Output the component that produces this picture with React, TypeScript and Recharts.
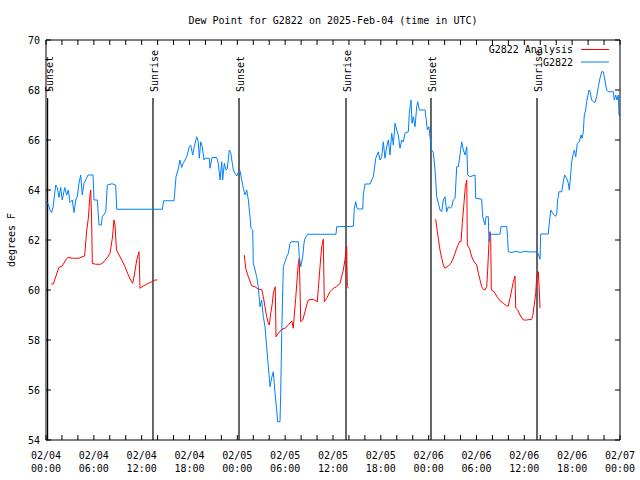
import React from 'react';
import { LineChart, Line, XAxis, YAxis, ReferenceLine, Legend } from 'recharts';

const FONT = "'DejaVu Sans Mono', monospace";

const titleText = 'Dew Point for G2822 on 2025-Feb-04 (time in UTC)';
const yAxisTitle = 'degrees F';
const seriesNames = ['G2822 Analysis', 'G2822'];
const seriesColors = ['#ff0000', '#0080ff'];

const xTickHours = [0, 6, 12, 18, 24, 30, 36, 42, 48, 54, 60, 66, 72];
const xTickDates = ['02/04', '02/04', '02/04', '02/04', '02/05', '02/05', '02/05', '02/05', '02/06', '02/06', '02/06', '02/06', '02/07'];
const xTickTimes = ['00:00', '06:00', '12:00', '18:00', '00:00', '06:00', '12:00', '18:00', '00:00', '06:00', '12:00', '18:00', '00:00'];
const xMinorTicks = [0, 2, 4, 6, 8, 10, 12, 14, 16, 18, 20, 22, 24, 26, 28, 30, 32, 34, 36, 38, 40, 42, 44, 46, 48, 50, 52, 54, 56, 58, 60, 62, 64, 66, 68, 70, 72];
const yTicks = [54, 56, 58, 60, 62, 64, 66, 68, 70];

const sunHours = [0.2, 13.42, 24.21, 37.63, 48.29, 61.59];
const sunLabels = ['Sunset', 'Sunrise', 'Sunset', 'Sunrise', 'Sunset', 'Sunrise'];
const sunLineTop = 67.68;

// G2822 observations: [hour since 02/04 00:00 UTC, dew point F]
const obsG2822: [number, number][] = [
  [0.0, 63.5], [0.25, 63.47], [0.5, 63.2], [0.69, 63.1], [0.88, 63.3], [1.22, 64.2], [1.42, 64.1], [1.63, 63.7],
  [1.84, 64.1], [2.04, 63.6], [2.35, 64.1], [2.6, 63.8], [2.8, 64.0], [3.01, 63.5], [3.3, 63.6], [3.51, 63.1],
  [3.73, 63.6], [3.93, 63.75], [4.14, 64.27], [4.35, 64.6], [4.55, 63.8], [4.77, 64.27], [4.98, 64.4], [5.27, 64.6],
  [5.9, 64.6], [6.02, 63.6], [6.44, 63.6], [6.65, 62.6], [6.94, 62.6], [7.06, 62.93], [7.49, 63.13], [7.69, 64.2],
  [8.28, 64.25], [8.74, 64.2], [8.87, 63.23], [14.59, 63.23], [14.76, 63.57], [16.06, 63.57], [16.31, 64.53],
  [16.56, 64.8], [16.81, 65.2], [17.02, 64.9], [17.22, 65.07], [17.44, 65.2], [17.65, 65.33], [17.98, 65.73],
  [18.15, 65.8], [18.4, 65.4], [18.6, 65.73], [18.9, 66.13], [19.1, 65.93], [19.23, 65.27], [19.41, 65.93],
  [19.61, 65.73], [19.82, 65.2], [19.94, 65.27], [20.48, 65.27], [20.57, 64.87], [20.82, 65.3], [21.41, 65.3],
  [21.61, 65.07], [21.83, 64.4], [22.04, 65.13], [22.16, 64.4], [22.37, 65.07], [22.58, 64.8], [22.74, 64.85],
  [22.99, 65.6], [23.17, 65.5], [23.37, 65.07], [23.5, 64.8], [23.71, 64.67], [23.92, 64.56], [24.12, 64.7],
  [24.34, 64.77], [24.55, 64.4], [24.75, 64.07], [24.96, 63.8], [25.18, 64.0], [25.38, 63.6], [25.59, 62.93],
  [25.71, 62.47], [25.93, 62.4], [26.0, 61.07], [26.22, 60.8], [26.43, 60.53], [26.63, 60.13], [26.84, 59.33],
  [27.05, 59.6], [27.26, 58.93], [27.47, 58.53], [27.68, 57.73], [27.89, 56.93], [28.1, 56.13], [28.31, 56.5],
  [28.51, 56.73], [28.73, 55.87], [28.94, 55.2], [29.06, 54.73], [29.35, 54.73], [29.44, 55.87], [29.57, 58.27],
  [29.77, 60.93], [29.98, 61.13], [30.19, 61.33], [30.4, 61.47], [30.61, 61.87], [30.73, 61.93], [31.65, 61.93],
  [31.77, 61.33], [31.95, 60.93], [32.2, 61.33], [32.36, 61.87], [32.49, 62.07], [32.83, 62.23], [36.38, 62.23],
  [36.46, 62.53], [38.55, 62.55], [38.67, 63.27], [38.85, 63.53], [39.01, 63.27], [39.14, 63.24], [39.73, 63.24],
  [39.8, 63.8], [40.01, 64.24], [40.64, 64.24], [40.86, 64.4], [41.06, 64.53], [41.36, 65.27], [41.68, 65.53],
  [41.9, 65.2], [42.11, 65.33], [42.31, 65.93], [42.52, 65.27], [42.74, 65.73], [42.94, 66.0], [43.15, 65.4],
  [43.36, 66.27], [43.57, 65.8], [43.78, 66.67], [43.99, 66.4], [44.19, 66.2], [44.41, 65.67], [44.62, 66.0],
  [44.82, 65.93], [45.03, 66.27], [45.45, 66.33], [45.57, 67.07], [45.79, 67.6], [45.91, 66.67], [46.07, 66.93],
  [46.29, 66.53], [46.5, 67.33], [46.63, 67.53], [46.83, 67.2], [47.54, 67.2], [47.67, 66.87], [47.83, 66.4],
  [48.04, 66.53], [48.25, 65.87], [48.37, 65.6], [48.58, 65.5], [48.8, 64.8], [49.01, 63.73], [49.22, 63.47],
  [49.42, 63.2], [49.64, 63.13], [49.84, 63.6], [50.05, 63.73], [50.26, 63.13], [50.47, 63.33], [50.68, 63.27],
  [50.89, 63.33], [51.09, 63.6], [51.31, 63.67], [51.52, 64.93], [51.72, 64.93], [51.93, 65.4], [52.14, 65.93],
  [52.35, 65.6], [52.56, 65.4], [52.78, 65.73], [52.9, 64.6], [53.19, 64.53], [53.82, 64.6], [53.9, 63.67],
  [54.65, 63.63], [54.78, 62.93], [55.07, 62.6], [55.19, 62.93], [55.48, 62.93], [55.57, 61.93], [55.69, 62.2],
  [55.9, 62.23], [56.95, 62.23], [57.07, 62.53], [57.79, 62.55], [57.91, 62.07], [57.99, 61.53], [58.45, 61.5],
  [58.96, 61.55], [59.46, 61.5], [60.09, 61.55], [60.71, 61.52], [61.55, 61.53], [61.76, 61.45], [61.97, 61.23],
  [62.05, 62.24], [63.0, 62.24], [63.21, 62.93], [63.34, 63.2], [63.55, 63.07], [63.85, 62.95], [64.06, 63.0],
  [64.18, 63.6], [64.35, 63.93], [64.69, 63.93], [64.89, 64.33], [65.06, 64.6], [65.31, 64.47], [65.52, 64.27],
  [65.64, 64.0], [65.82, 64.67], [65.94, 65.13], [66.15, 65.47], [66.28, 65.6], [66.45, 65.33], [66.65, 65.87],
  [66.9, 65.93], [67.11, 66.2], [67.24, 66.07], [67.4, 66.33], [67.52, 67.0], [67.7, 67.2], [67.82, 67.53],
  [68.11, 68.0], [68.24, 67.93], [68.45, 67.6], [68.66, 67.53], [68.87, 67.5], [69.07, 67.73], [69.28, 68.13],
  [69.49, 68.47], [69.7, 68.73], [69.9, 68.73], [70.11, 68.4], [70.32, 68.0], [70.53, 67.93], [71.16, 67.93],
  [71.28, 67.6], [71.46, 67.8], [71.62, 67.6], [71.79, 67.8], [71.88, 67.0], [72.0, 66.95],
];

// G2822 Analysis, night 1
const analysisNight1: [number, number][] = [
  [0.66, 60.24], [0.92, 60.24], [1.22, 60.53], [1.63, 60.91], [2.04, 60.96], [2.47, 61.2], [2.76, 61.31],
  [3.3, 61.27], [4.14, 61.27], [4.52, 61.33], [4.85, 61.36], [5.11, 62.4], [5.31, 62.87], [5.52, 63.8],
  [5.61, 64.0], [5.71, 63.0], [5.81, 61.07], [6.23, 61.03], [6.86, 61.03], [7.28, 61.13], [7.69, 61.3],
  [8.03, 61.47], [8.32, 62.07], [8.53, 62.8], [8.66, 62.6], [8.84, 61.6], [9.5, 61.2], [9.91, 60.93],
  [10.32, 60.6], [10.62, 60.4], [10.88, 60.27], [11.08, 60.6], [11.38, 61.2], [11.67, 61.53], [11.79, 60.07],
  [12.21, 60.16], [12.83, 60.27], [13.26, 60.33], [13.67, 60.4], [13.96, 60.4],
];

// G2822 Analysis, night 2
const analysisNight2: [number, number][] = [
  [24.87, 61.4], [25.05, 60.87], [25.38, 60.53], [25.8, 60.17], [26.22, 60.13], [26.63, 60.03], [27.06, 60.03],
  [27.26, 59.73], [27.47, 59.33], [27.68, 58.93], [27.89, 58.67], [28.01, 58.6], [28.19, 59.07], [28.39, 59.47],
  [28.51, 59.87], [28.69, 60.07], [28.76, 60.13], [28.85, 58.13], [29.14, 58.27], [29.57, 58.43], [29.98, 58.47],
  [30.4, 58.6], [30.82, 58.76], [31.02, 58.47], [31.11, 58.87], [31.32, 59.67], [31.52, 60.53], [31.65, 61.07],
  [31.77, 61.27], [31.86, 60.1], [31.95, 58.73], [32.2, 58.8], [32.49, 59.13], [32.7, 59.4], [32.9, 59.6],
  [33.53, 59.63], [34.03, 59.53], [34.16, 60.07], [34.37, 60.93], [34.58, 61.73], [34.78, 62.03], [34.91, 59.53],
  [35.21, 59.67], [35.62, 59.93], [36.04, 60.07], [36.46, 60.13], [36.88, 60.27], [37.29, 60.8], [37.5, 61.2],
  [37.63, 61.53], [37.72, 61.73], [37.79, 60.13], [37.97, 60.07],
];

// G2822 Analysis, night 3
const analysisNight3: [number, number][] = [
  [48.88, 62.83], [49.01, 62.5], [49.21, 62.07], [49.42, 61.6], [49.64, 61.27], [49.84, 61.0], [50.05, 60.87],
  [50.47, 60.96], [50.8, 61.07], [51.09, 61.27], [51.52, 61.67], [51.85, 61.93], [52.06, 61.93], [52.22, 62.67],
  [52.43, 63.47], [52.6, 64.13], [52.78, 64.4], [52.85, 61.8], [53.11, 61.67], [53.4, 61.33], [53.69, 61.13],
  [54.03, 61.0], [54.24, 60.67], [54.44, 60.4], [54.66, 60.13], [54.86, 60.03], [55.07, 60.0], [55.28, 60.13],
  [55.4, 60.8], [55.57, 61.93], [55.69, 62.33], [55.78, 62.13], [55.86, 60.0], [56.11, 59.96], [56.32, 59.87],
  [56.61, 59.71], [56.95, 59.57], [57.36, 59.47], [57.79, 59.36], [57.99, 59.36], [58.2, 59.67], [58.41, 60.0],
  [58.62, 60.33], [58.83, 60.56], [58.92, 59.27], [59.17, 59.2], [59.46, 59.0], [59.87, 58.8], [60.29, 58.8],
  [60.92, 58.83], [61.05, 58.93], [61.21, 59.33], [61.43, 59.87], [61.55, 60.53], [61.76, 60.73], [61.84, 60.2],
  [61.97, 59.27],
];

const toRows = (arr: [number, number][]) => arr.map(([h, v]) => ({ h, v }));

const txt = { fontFamily: FONT, fontSize: 10, fill: '#000' } as const;

const BottomTick = (props: any) => {
  const { x, y, payload } = props;
  const i = xTickHours.indexOf(payload.value);
  return (
    <g>
      <line x1={x} x2={x} y1={y} y2={y - 5} stroke="#000" />
      {i >= 0 && (
        <text x={x} y={y + 19} textAnchor="middle" {...txt}>{xTickDates[i]}</text>
      )}
      {i >= 0 && (
        <text x={x} y={y + 32} textAnchor="middle" {...txt}>{xTickTimes[i]}</text>
      )}
    </g>
  );
};

const TopTick = (props: any) => {
  const { x, y } = props;
  return <line x1={x} x2={x} y1={y} y2={y + 5} stroke="#000" />;
};

const LeftTick = (props: any) => {
  const { x, y, payload } = props;
  return (
    <g>
      <line x1={x} x2={x + 5} y1={y} y2={y} stroke="#000" />
      <text x={x - 6} y={y + 3.5} textAnchor="end" {...txt}>{payload.value}</text>
    </g>
  );
};

const RightTick = (props: any) => {
  const { x, y } = props;
  return <line x1={x} x2={x - 5} y1={y} y2={y} stroke="#000" />;
};

const SunLabel = (props: any) => {
  const { viewBox, text } = props;
  if (!viewBox) return null;
  const x = viewBox.x + 5;
  const y = viewBox.y - 6;
  return (
    <text x={x} y={y} transform={`rotate(-90 ${x} ${y})`} textAnchor="start" {...txt}>{text}</text>
  );
};

const TitleLabel = (props: any) => {
  const vb = props.viewBox || { x: 46, width: 574 };
  return (
    <text x={vb.x + vb.width / 2} y={24} textAnchor="middle" {...txt}>{titleText}</text>
  );
};

const YTitleLabel = (props: any) => {
  const vb = props.viewBox || { y: 40, height: 400 };
  const cy = vb.y + vb.height / 2;
  return (
    <text x={15} y={cy} transform={`rotate(-90 15 ${cy})`} textAnchor="middle" {...txt}>{yAxisTitle}</text>
  );
};

const LegendBox = () => (
  <svg width={150} height={30} style={{ display: 'block' }}>
    <text x={103} y={13} textAnchor="end" {...txt}>{seriesNames[0]}</text>
    <line x1={111} x2={139} y1={9.5} y2={9.5} stroke={seriesColors[0]} strokeWidth={1} />
    <text x={103} y={25.5} textAnchor="end" {...txt}>{seriesNames[1]}</text>
    <line x1={111} x2={139} y1={22} y2={22} stroke={seriesColors[1]} strokeWidth={1} />
  </svg>
);

export default function App() {
  return (
    <div style={{ position: 'absolute', left: 0, top: 0, width: 640, height: 480, background: '#fff' }}>
      <LineChart width={640} height={480} margin={{ top: 39, right: 19, bottom: 0, left: 0 }}>
        <XAxis
          xAxisId="b"
          type="number"
          dataKey="h"
          domain={[0, 72]}
          ticks={xMinorTicks}
          interval={0}
          allowDataOverflow
          height={40}
          tickSize={0}
          tickMargin={0}
          tickLine={false}
          axisLine={{ stroke: '#000' }}
          tick={<BottomTick />}
        />
        <XAxis
          xAxisId="t"
          orientation="top"
          type="number"
          dataKey="h"
          domain={[0, 72]}
          ticks={xMinorTicks}
          interval={0}
          allowDataOverflow
          height={1}
          tickSize={0}
          tickMargin={0}
          tickLine={false}
          axisLine={{ stroke: '#000' }}
          tick={<TopTick />}
          label={<TitleLabel />}
        />
        <YAxis
          yAxisId="l"
          type="number"
          domain={[54, 70]}
          ticks={yTicks}
          interval={0}
          allowDataOverflow
          width={46}
          tickSize={0}
          tickMargin={0}
          tickLine={false}
          axisLine={{ stroke: '#000' }}
          tick={<LeftTick />}
          label={<YTitleLabel />}
        />
        <YAxis
          yAxisId="r"
          orientation="right"
          type="number"
          domain={[54, 70]}
          ticks={yTicks}
          interval={0}
          allowDataOverflow
          width={1}
          tickSize={0}
          tickMargin={0}
          tickLine={false}
          axisLine={{ stroke: '#000' }}
          tick={<RightTick />}
        />
        {sunHours.map((h, i) => (
          <ReferenceLine
            key={'sun' + i}
            xAxisId="b"
            yAxisId="l"
            segment={[{ x: h, y: 54 }, { x: h, y: sunLineTop }]}
            stroke="#000"
            strokeWidth={1.2}
            label={<SunLabel text={sunLabels[i]} />}
          />
        ))}
        <Line
          xAxisId="b"
          yAxisId="l"
          data={toRows(analysisNight1)}
          dataKey="v"
          name={seriesNames[0]}
          stroke={seriesColors[0]}
          strokeWidth={1}
          dot={false}
          isAnimationActive={false}
        />
        <Line
          xAxisId="b"
          yAxisId="l"
          data={toRows(analysisNight2)}
          dataKey="v"
          name={seriesNames[0] + ' 2'}
          stroke={seriesColors[0]}
          strokeWidth={1}
          dot={false}
          isAnimationActive={false}
          legendType="none"
        />
        <Line
          xAxisId="b"
          yAxisId="l"
          data={toRows(analysisNight3)}
          dataKey="v"
          name={seriesNames[0] + ' 3'}
          stroke={seriesColors[0]}
          strokeWidth={1}
          dot={false}
          isAnimationActive={false}
          legendType="none"
        />
        <Line
          xAxisId="b"
          yAxisId="l"
          data={toRows(obsG2822)}
          dataKey="v"
          name={seriesNames[1]}
          stroke={seriesColors[1]}
          strokeWidth={1}
          dot={false}
          isAnimationActive={false}
        />
        <Legend
          layout="horizontal"
          verticalAlign="middle"
          align="center"
          wrapperStyle={{ position: 'absolute', left: 470, top: 40, width: 150, height: 30 }}
          content={<LegendBox />}
        />
      </LineChart>
    </div>
  );
}
